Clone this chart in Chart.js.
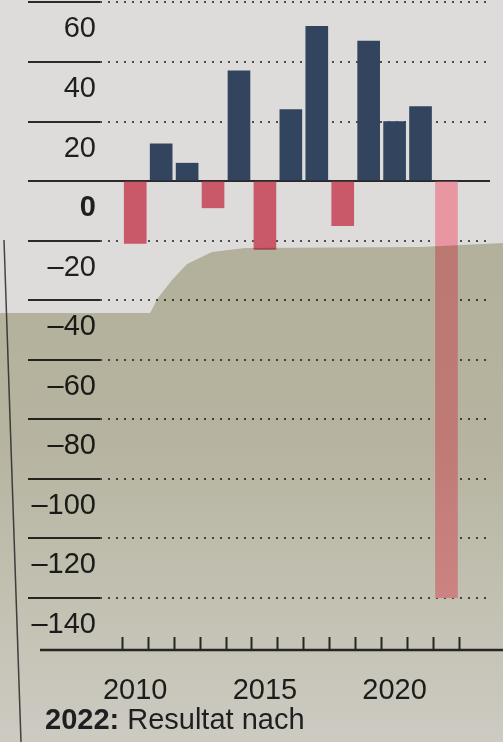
<!DOCTYPE html>
<html>
<head>
<meta charset="utf-8">
<script src="https://cdn.jsdelivr.net/npm/chart.js@4.4.0/dist/chart.umd.min.js"></script>
<style>
  html, body { margin: 0; padding: 0; background: #dcdbda; }
  #wrap { position: relative; width: 503px; height: 742px; overflow: hidden; }
  #chart { display: block; }
  #note {
    position: absolute; left: 45px; top: 703px;
    font: 29px 'Liberation Sans', Arial, sans-serif; color: #1f1f1f;
    white-space: nowrap;
  }
</style>
</head>
<body>
<div id="wrap">
  <canvas id="chart" width="503" height="742"></canvas>
  <div id="note"><b>2022:</b> Resultat nach</div>
</div>
<script>
// yearly result, in millions
const years = [2010, 2011, 2012, 2013, 2014, 2015, 2016, 2017, 2018, 2019, 2020, 2021, 2022];
const results = [-21, 12.5, 6, -9, 37, -23, 24, 52, -15, 47, 20, 25, -140];
const yTicks = [60, 40, 20, 0, -20, -40, -60, -80, -100, -120, -140];
const labelledYears = [2010, 2015, 2020];
const restatedYear = 2022;

const FONT = "'Liberation Sans', Arial, sans-serif";
const INK = '#1f1f1f';

function barColor(ctx) {
  const p = ctx.raw;
  if (!p) return '#33455e';
  if (p.x === restatedYear) return '#e896a1';
  return p.y < 0 ? '#c95868' : '#33455e';
}

// paper background, x-axis rule and the shadow lying across the lower page
const paper = {
  id: 'paper',
  beforeDraw(chart) {
    const c = chart.ctx;
    c.save();
    c.fillStyle = '#dddcdb';
    c.fillRect(0, 0, chart.width, chart.height);
    c.restore();
  },
  afterDraw(chart) {
    const c = chart.ctx;
    const area = chart.chartArea;
    c.save();
    // x-axis rule
    c.strokeStyle = '#2a2a2a';
    c.lineWidth = 2.5;
    c.beginPath();
    c.moveTo(40, area.bottom);
    c.lineTo(chart.width, area.bottom);
    c.stroke();

    // shadow
    c.globalCompositeOperation = 'multiply';
    const g = c.createLinearGradient(0, 240, 0, chart.height);
    g.addColorStop(0, 'rgb(206,204,180)');
    g.addColorStop(0.4, 'rgb(210,208,186)');
    g.addColorStop(0.8, 'rgb(228,227,212)');
    g.addColorStop(1, 'rgb(236,235,226)');
    c.fillStyle = g;
    c.beginPath();
    c.moveTo(0, 313);
    c.lineTo(150, 313);
    c.lineTo(158, 298);
    c.lineTo(172, 280);
    c.lineTo(187, 264);
    c.lineTo(212, 252);
    c.lineTo(245, 248);
    c.lineTo(420, 247);
    c.lineTo(503, 243);
    c.lineTo(503, 742);
    c.lineTo(0, 742);
    c.closePath();
    c.fill();

    // page edge on the left
    c.globalCompositeOperation = 'source-over';
    c.strokeStyle = 'rgba(30,30,30,0.8)';
    c.lineWidth = 1.5;
    c.beginPath();
    c.moveTo(4, 240);
    c.lineTo(21, 742);
    c.stroke();
    c.restore();
  }
};

new Chart(document.getElementById('chart'), {
  type: 'bar',
  data: {
    datasets: [{
      data: years.map((y, i) => ({ x: y, y: results[i] })),
      backgroundColor: barColor,
      borderWidth: 0,
      barThickness: 22
    }]
  },
  options: {
    responsive: false,
    animation: false,
    devicePixelRatio: 1,
    layout: { padding: { top: 0, right: 13, bottom: 0, left: 0 } },
    plugins: { legend: { display: false }, tooltip: { enabled: false } },
    scales: {
      x: {
        type: 'linear',
        min: 2009.22,
        max: 2023.1,
        afterBuildTicks(s) { s.ticks = years.map(v => ({ value: v })); },
        afterFit(s) { s.height = 92; s.paddingLeft = 0; s.paddingRight = 0; },
        border: { display: false },
        grid: { drawOnChartArea: false, tickLength: -13, tickColor: '#2a2a2a', tickWidth: 2 },
        ticks: {
          autoSkip: false,
          maxRotation: 0,
          padding: 37,
          color: INK,
          font: { family: FONT, size: 29 },
          callback: v => labelledYears.includes(v) ? String(v) : ''
        }
      },
      y: {
        min: -157.6,
        max: 60.84,
        afterBuildTicks(s) { s.ticks = yTicks.map(v => ({ value: v })); },
        afterFit(s) { s.width = 100; s.paddingTop = 0; s.paddingBottom = 0; },
        border: {
          display: false,
          dash: ctx => ctx.tick && ctx.tick.value === 0 ? [] : [2, 6]
        },
        grid: {
          color: ctx => ctx.tick && ctx.tick.value === 0 ? '#2a2a2a' : 'rgba(50,50,50,0.85)',
          lineWidth: 2,
          tickLength: 72,
          tickColor: '#2a2a2a',
          tickWidth: 2,
          tickBorderDash: []
        },
        ticks: {
          padding: -68,
          labelOffset: 27,
          color: INK,
          font: ctx => ({ family: FONT, size: 29, weight: ctx.tick && ctx.tick.value === 0 ? 'bold' : 'normal' }),
          callback: v => v < 0 ? '\u2013' + Math.abs(v) : String(v)
        }
      }
    }
  },
  plugins: [paper]
});
</script>
</body>
</html>
